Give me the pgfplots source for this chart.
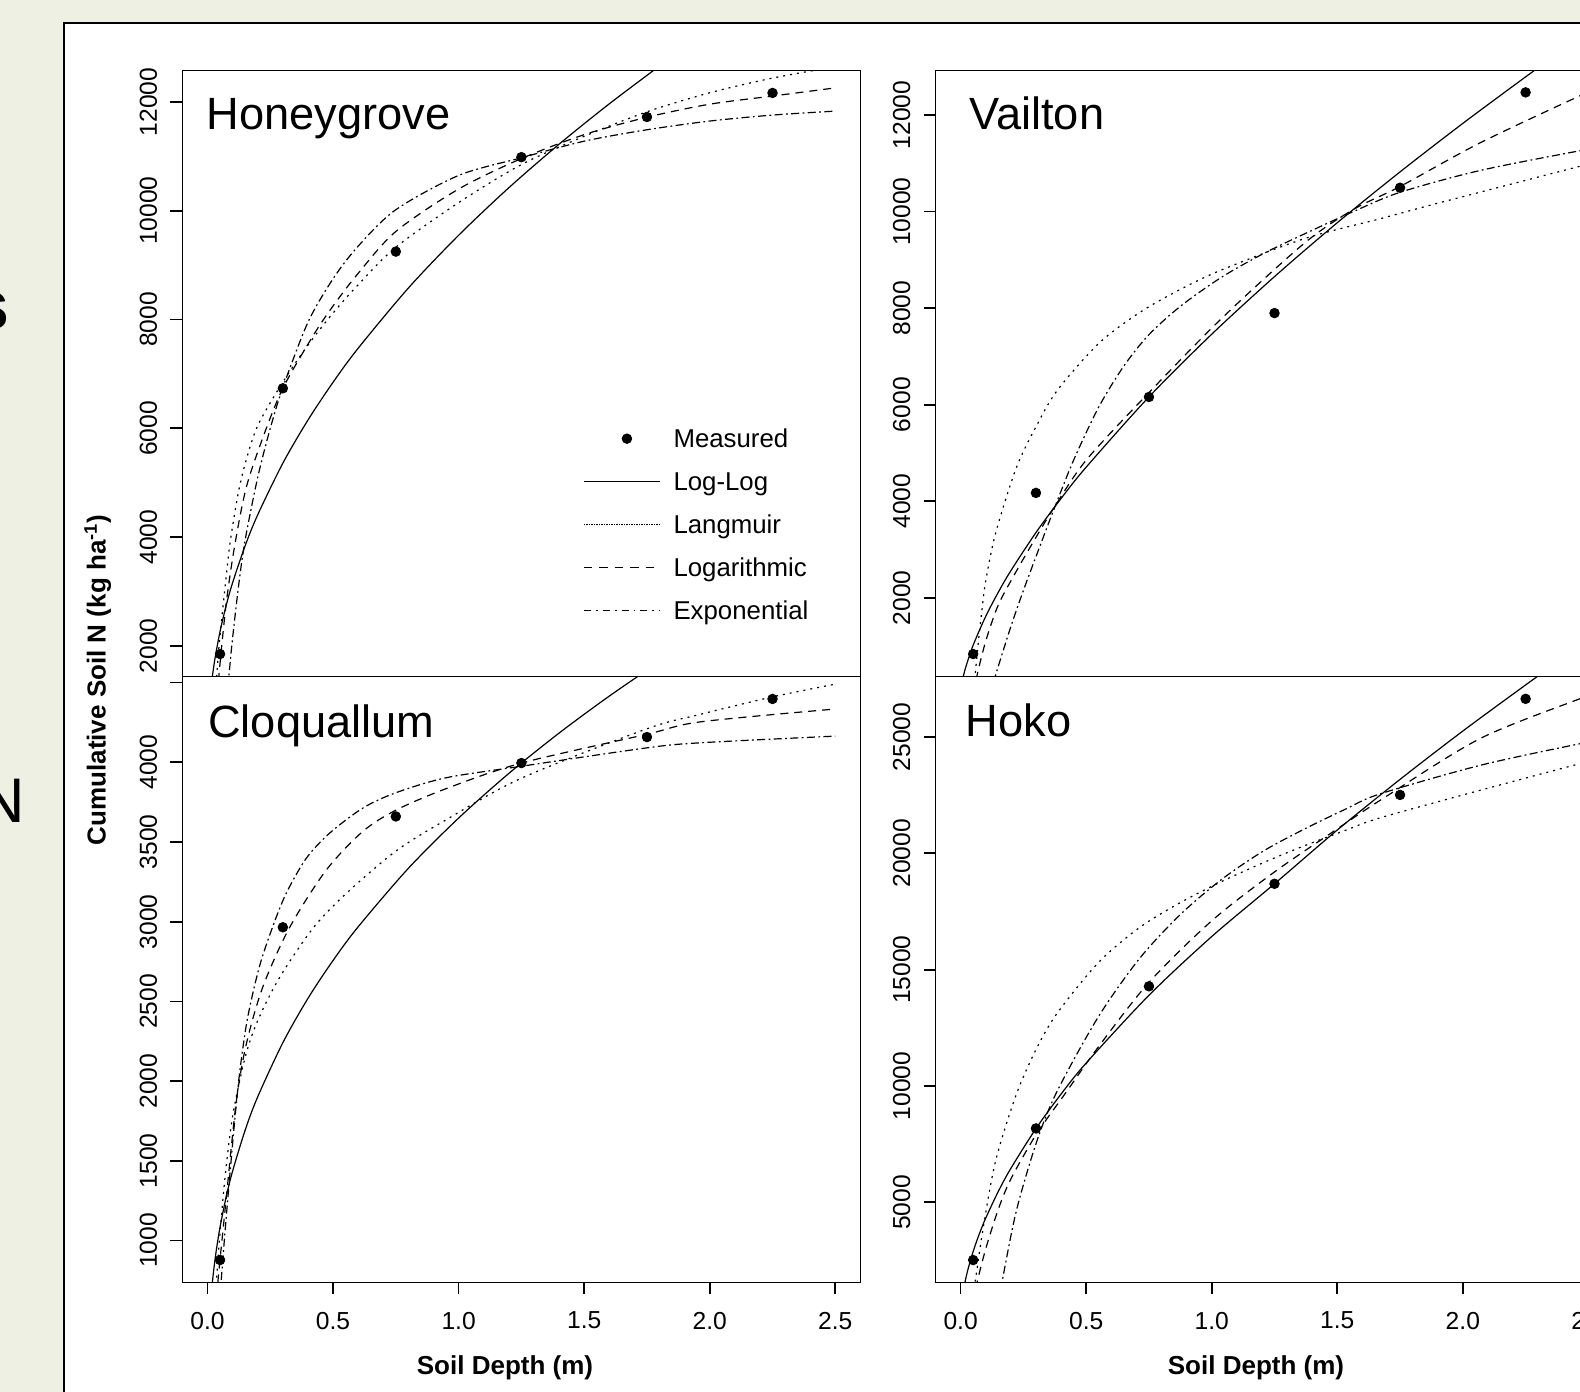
\documentclass[border=0pt]{standalone}
\usepackage{pgfplots}
\pgfplotsset{compat=1.18}
\usepackage{fontspec}
\setmainfont{Liberation Sans}
\definecolor{slidebg}{RGB}{238,240,228}
\newcommand{\tickfont}{\fontsize{12.3}{14}\selectfont}
\newcommand{\labfont}{\fontsize{13}{15}\selectfont\bfseries}
\newcommand{\titfont}{\fontsize{22.6}{26}\selectfont}
\pgfplotsset{
  panel/.style={
    scale only axis, width=339pt, height=303pt, anchor=south west,
    xmin=-0.1, xmax=2.6,
    axis line style={line width=0.85pt},
    tick align=outside, major tick length=6pt,
    major tick style={line width=0.85pt, black},
    tick pos=left,
    scaled ticks=false,
    xticklabels={}, yticklabels={},
    ticklabel style={opacity=0},
  },
  ll/.style={black, line width=0.6pt, smooth, tension=0.5, no markers, forget plot},
  lang/.style={ll, dash pattern=on 1pt off 2.5pt},
  lg/.style={ll, dash pattern=on 4pt off 3pt},
  ex/.style={ll, dash pattern=on 4pt off 1.7pt on 0.9pt off 1.7pt},
  meas/.style={only marks, mark=*, mark size=2.4pt, black, forget plot},
  ylabs/.style={after end axis/.append code={
     \foreach \v in {#1}{\node[rotate=90, anchor=south, inner sep=0pt, font=\tickfont] at ([xshift=-12.4pt]axis cs:-0.1,\v) {\v};}
  }},
  xlabs/.style={after end axis/.append code={
     \foreach \x/\t in {0/0.0,0.5/0.5,1/1.0,1.5/1.5,2/2.0,2.5/2.5}{\node[anchor=north, inner sep=0pt, font=\tickfont] at ([yshift=-14.5pt]axis cs:\x,#1) {\t};}
  }},
}
\begin{document}
\begin{tikzpicture}
\useasboundingbox (0,0) rectangle (790pt,696pt);
\clip (0,0) rectangle (790pt,696pt);
\fill[slidebg] (0,0) rectangle (790pt,696pt);
\filldraw[fill=white, draw=black, line width=0.8pt] (32pt,-10pt) rectangle (800pt,684.4pt);
\node[anchor=base east, inner sep=0pt, font=\fontsize{35}{40}\selectfont\bfseries] at (5pt,531pt) {s};
\node[anchor=base east, inner sep=0pt, font=\fontsize{31.5}{36}\selectfont] at (12.5pt,284.5pt) {N};

% ---------------- Honeygrove ----------------
\begin{axis}[panel, at={(91.2pt,357.75pt)}, ymin=1437, ymax=12580,
  xtick=\empty, ytick={2000,4000,6000,8000,10000,12000},
  ylabs={2000,4000,6000,8000,10000,12000},
  legend style={draw=none, fill=none, at={(axis cs:1.495,6038)}, anchor=north west,
    font=\fontsize{12.9}{15}\selectfont, row sep=9.5pt, column sep=6.5pt, inner sep=0pt,
    cells={anchor=west}, nodes={inner sep=0pt, opacity=1}},
  legend image code/.code={\draw[mark repeat=2,mark phase=2,#1] plot coordinates {(0pt,0pt) (21.5pt,0pt) (38pt,0pt)};},
]
\addlegendimage{only marks, mark=*, mark size=2.4pt, black}
\addlegendentry{\strut Measured}
\addlegendimage{black, line width=0.6pt}
\addlegendentry{\strut Log-Log}
\addlegendimage{black, line width=0.6pt, dash pattern=on 0.7pt off 0.55pt}
\addlegendentry{\strut Langmuir}
\addlegendimage{black, line width=0.6pt, dash pattern=on 4.2pt off 3.5pt}
\addlegendentry{\strut Logarithmic}
\addlegendimage{black, line width=0.6pt, dash pattern=on 3.5pt off 2.5pt on 0.9pt off 2.5pt}
\addlegendentry{\strut Exponential}
\addplot[ll] coordinates {(0.018,1389) (0.02,1460) (0.03,1774) (0.05,2267) (0.075,2755) (0.1,3162) (0.15,3842) (0.2,4411) (0.3,5359) (0.4,6152) (0.5,6847) (0.6,7473) (0.8,8580) (1.0,9550) (1.2,10424) (1.4,11224) (1.6,11967) (1.8,12662)};
\addplot[lang] coordinates {(0.034,1300) (0.045,1950) (0.06,2650) (0.075,3300) (0.09,3900) (0.12,4750) (0.15,5350) (0.2,6050) (0.3,6850) (0.4,7530) (0.5,8120) (0.6,8640) (0.75,9330) (1.0,10150) (1.25,10850) (1.5,11370) (1.75,11820) (2.0,12170) (2.25,12440) (2.5,12650)};
\addplot[lg] coordinates {(0.04,1100) (0.045,1437) (0.074,2764) (0.108,3836) (0.154,4907) (0.221,5836) (0.3,6736) (0.42,7700) (0.5,8250) (0.6,8850) (0.75,9620) (1.0,10400) (1.25,10960) (1.5,11400) (1.75,11720) (2.0,11960) (2.25,12110) (2.5,12260)};
\addplot[ex] coordinates {(0.082,1250) (0.085,1437) (0.1,2150) (0.125,3150) (0.15,3950) (0.2,5100) (0.25,6000) (0.3,6750) (0.4,7950) (0.5,8750) (0.6,9350) (0.75,10020) (1.0,10650) (1.25,10975) (1.5,11280) (1.75,11490) (2.0,11650) (2.25,11760) (2.5,11833)};
\addplot[meas] coordinates {(0.05,1850) (0.3,6736) (0.75,9250) (1.25,10986) (1.75,11725) (2.25,12167)};
\end{axis}

% ---------------- Cloquallum ----------------
\begin{axis}[panel, at={(91.2pt,54.75pt)}, ymin=737, ymax=4538,
  xtick={0,0.5,1,1.5,2,2.5}, ytick={1000,1500,2000,2500,3000,3500,4000,4500},
  ylabs={1000,1500,2000,2500,3000,3500,4000}, xlabs=737,
]
\addplot[ll] coordinates {(0.018,717) (0.025,819) (0.035,939) (0.05,1085) (0.075,1279) (0.1,1436) (0.15,1693) (0.2,1902) (0.3,2241) (0.4,2519) (0.5,2757) (0.6,2968) (0.8,3335) (1.0,3650) (1.2,3930) (1.4,4183) (1.6,4415) (1.8,4631)};
\addplot[lang] coordinates {(0.033,680) (0.035,737) (0.05,1050) (0.07,1400) (0.1,1780) (0.15,2150) (0.2,2380) (0.287,2650) (0.42,2959) (0.553,3178) (0.752,3445) (0.951,3640) (1.25,3900) (1.75,4210) (1.961,4300) (2.25,4410) (2.5,4490)};
\addplot[lg] coordinates {(0.039,650) (0.041,737) (0.074,1256) (0.114,1864) (0.154,2229) (0.221,2594) (0.327,2964) (0.473,3324) (0.619,3567) (0.752,3701) (0.951,3835) (1.25,3995) (1.748,4175) (1.961,4253) (2.5,4334)};
\addplot[ex] coordinates {(0.052,650) (0.054,737) (0.07,1060) (0.09,1430) (0.11,1780) (0.13,2080) (0.16,2400) (0.207,2720) (0.26,2970) (0.314,3180) (0.393,3397) (0.486,3555) (0.619,3713) (0.752,3810) (0.951,3903) (1.25,3975) (1.748,4090) (1.961,4122) (2.5,4164)};
\addplot[meas] coordinates {(0.05,878) (0.3,2965) (0.75,3660) (1.25,3995) (1.75,4158) (2.25,4397)};
\end{axis}

% ---------------- Vailton ----------------
\begin{axis}[panel, at={(467.75pt,357.75pt)}, ymin=368, ymax=12924,
  xtick=\empty, ytick={2000,4000,6000,8000,10000,12000},
  ylabs={2000,4000,6000,8000,10000,12000},
]
\addplot[ll] coordinates {(0.01,349) (0.02,553) (0.05,1017) (0.1,1614) (0.15,2113) (0.2,2559) (0.3,3350) (0.4,4056) (0.5,4705) (0.75,6161) (1.0,7460) (1.25,8653) (1.5,9770) (1.75,10823) (2.0,11828) (2.25,12792) (2.35,13167)};
\addplot[lang] coordinates {(0.056,300) (0.058,407) (0.07,1050) (0.085,1750) (0.1,2350) (0.14,3350) (0.222,4695) (0.304,5580) (0.386,6304) (0.55,7269) (0.714,7913) (0.878,8396) (1.042,8798) (1.37,9442) (1.669,9850) (1.861,10120) (2.067,10400) (2.465,10937) (2.6,11100)};
\addplot[lg] coordinates {(0.064,300) (0.066,407) (0.1,1100) (0.15,1850) (0.222,2550) (0.3,3250) (0.37,3850) (0.5,4850) (0.75,6250) (1.042,7800) (1.37,9350) (1.566,10050) (1.75,10520) (2.067,11420) (2.465,12397) (2.6,12700)};
\addplot[ex] coordinates {(0.135,250) (0.14,407) (0.2,1400) (0.25,2150) (0.3,2850) (0.37,3810) (0.45,4850) (0.55,5950) (0.65,6800) (0.75,7450) (0.878,8050) (1.042,8650) (1.206,9130) (1.37,9540) (1.566,10005) (1.75,10400) (2.067,10850) (2.465,11260) (2.6,11380)};
\addplot[meas] coordinates {(0.05,833) (0.3,4172) (0.75,6159) (1.25,7897) (1.75,10495) (2.25,12470)};
\end{axis}

% ---------------- Hoko ----------------
\begin{axis}[panel, at={(467.75pt,54.75pt)}, ymin=1554, ymax=27601,
  xtick={0,0.5,1,1.5,2,2.5}, ytick={5000,10000,15000,20000,25000},
  ylabs={5000,10000,15000,20000,25000}, xlabs=1554,
]
\addplot[ll] coordinates {(0.015,1437) (0.02,1698) (0.03,2148) (0.05,2890) (0.075,3657) (0.1,4319) (0.15,5466) (0.2,6458) (0.3,8169) (0.4,9652) (0.5,10987) (0.75,13899) (1.0,16423) (1.25,18691) (1.5,21003) (1.75,23179) (2.0,25257) (2.25,27238) (2.32,27777)};
\addplot[lang] coordinates {(0.056,1300) (0.058,1583) (0.091,3971) (0.14,6808) (0.222,9645) (0.304,11648) (0.386,13150) (0.55,15320) (0.714,16822) (0.878,17900) (1.042,18800) (1.206,19600) (1.37,20330) (1.533,20990) (1.669,21520) (2.067,22704) (2.465,23850) (2.6,24200)};
\addplot[lg] coordinates {(0.063,1300) (0.066,1583) (0.1,3000) (0.15,4700) (0.2,6000) (0.3,7900) (0.42,9730) (0.55,11700) (0.75,14450) (1.0,17100) (1.25,19200) (1.5,21050) (1.681,22350) (2.067,24923) (2.465,26640) (2.6,27150)};
\addplot[ex] coordinates {(0.16,1300) (0.165,1583) (0.222,4638) (0.304,7642) (0.386,9812) (0.55,13000) (0.714,15500) (0.878,17400) (1.042,18900) (1.206,20100) (1.37,21050) (1.533,21900) (1.669,22550) (2.067,23777) (2.465,24708) (2.6,24950)};
\addplot[meas] coordinates {(0.05,2519) (0.3,8176) (0.75,14285) (1.25,18691) (1.75,22510) (2.25,26640)};
\end{axis}

% titles and axis labels
\node[anchor=base west, inner sep=0pt, font=\titfont] at (103.25pt,631.25pt) {Honeygrove};
\node[anchor=base west, inner sep=0pt, font=\titfont] at (103.9pt,327.25pt) {Cloquallum};
\node[anchor=base west, inner sep=0pt, font=\titfont] at (484.5pt,631.25pt) {Vailton};
\node[anchor=base west, inner sep=0pt, font=\titfont] at (482.7pt,327.85pt) {Hoko};
\node[rotate=90, inner sep=0pt, font=\labfont] at (48.85pt,356pt) {Cumulative Soil N (kg ha\textsuperscript{-1})};
\node[inner sep=0pt, font=\labfont] at (252.5pt,12.25pt) {Soil Depth (m)};
\node[inner sep=0pt, font=\labfont] at (628pt,12.25pt) {Soil Depth (m)};
\end{tikzpicture}
\end{document}
